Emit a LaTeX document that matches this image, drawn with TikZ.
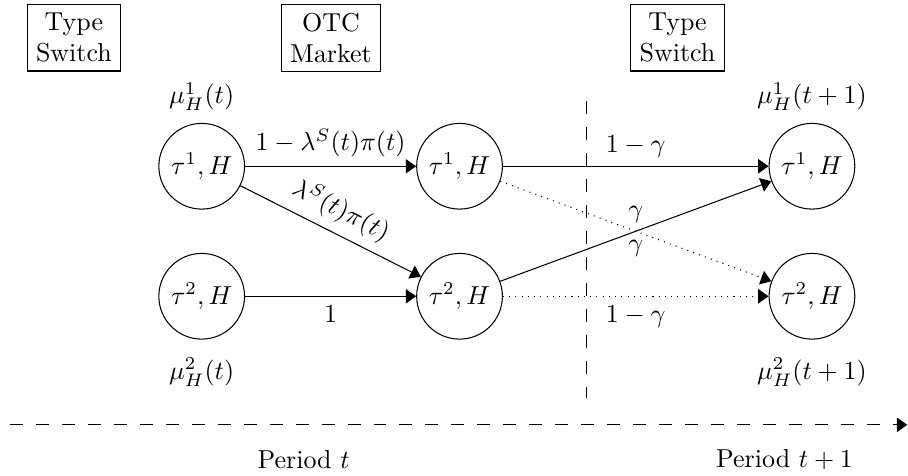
\documentclass[tikz,border=0pt]{standalone}
\usepackage{amsmath}
\usepackage{amssymb}
\usepackage{tikz}
\usetikzlibrary{arrows.meta}

\begin{document}
\begin{tikzpicture}[
        box/.style={rectangle, draw, align=center},
        state/.style={circle, draw, minimum size=1.16cm, inner sep=0pt},
        arrow/.style={-{Triangle[length=4pt, width=5.5pt]}},
        longdash/.style={dash pattern=on 5pt off 5pt}
    ]
        \useasboundingbox (0,0) rectangle (12.29,-6.43);

        \node[box] (switchA) at (1.0,-0.51) {Type\\Switch};
        \node[box] (otc) at (4.48,-0.51) {OTC\\Market};
        \node[box] (switchB) at (9.17,-0.51) {Type\\Switch};

        \node[state] (a1) at (2.73,-2.25) {$\tau^1, H$};
        \node[state, below of=a1, node distance=1.76cm] (a2) {$\tau^2, H$};
        \node[state, right of=a1, node distance=3.49cm] (b1) {$\tau^1, H$};
        \node[state, right of=a2, node distance=3.49cm] (b2) {$\tau^2, H$};
        \node[state, right of=b1, node distance=4.77cm] (c1) {$\tau^1, H$};
        \node[state, right of=b2, node distance=4.77cm] (c2) {$\tau^2, H$};

        \node[above of=a1, node distance=0.94cm, inner sep=1pt] (muA1) {$\mu_H^1(t)$};
        \node[below of=a2, node distance=1.03cm, inner sep=1pt] (muA2) {$\mu_H^2(t)$};
        \node[above of=c1, node distance=0.94cm, inner sep=1pt] (muC1) {$\mu_H^1(t+1)$};
        \node[below of=c2, node distance=1.03cm, inner sep=1pt] (muC2) {$\mu_H^2(t+1)$};

        \draw[arrow] (a1) -- node[above] {$1-\lambda^S(t)\pi(t)$} (b1);
        \draw[arrow] (a1) -- node[above, sloped] {$\lambda^S(t)\pi(t)$} (b2);
        \draw[arrow] (a2) -- node[below] {$1$} (b2);

        \draw[arrow] (b1) -- node[above] {$1-\gamma$} (c1);
        \draw[arrow, dotted] (b1) -- node[above] {$\gamma$} (c2);
        \draw[arrow] (b2) -- node[below] {$\gamma$} (c1);
        \draw[arrow, dotted] (b2) -- node[below] {$1-\gamma$} (c2);

        \coordinate (cutTop) at (7.94,-1.37);
        \coordinate (cutBot) at (7.94,-5.39);
        \draw[longdash] (cutTop) -- (cutBot);

        \coordinate (timeStart) at (0.135,-5.75);
        \coordinate (timeEnd) at (12.28,-5.75);
        \draw[arrow, longdash] (timeStart) -- (timeEnd);

        \node (periodA) at (4.11,-6.22) {Period $t$};
        \node (periodB) at (10.62,-6.22) {Period $t+1$};
    \end{tikzpicture}
\end{document}
